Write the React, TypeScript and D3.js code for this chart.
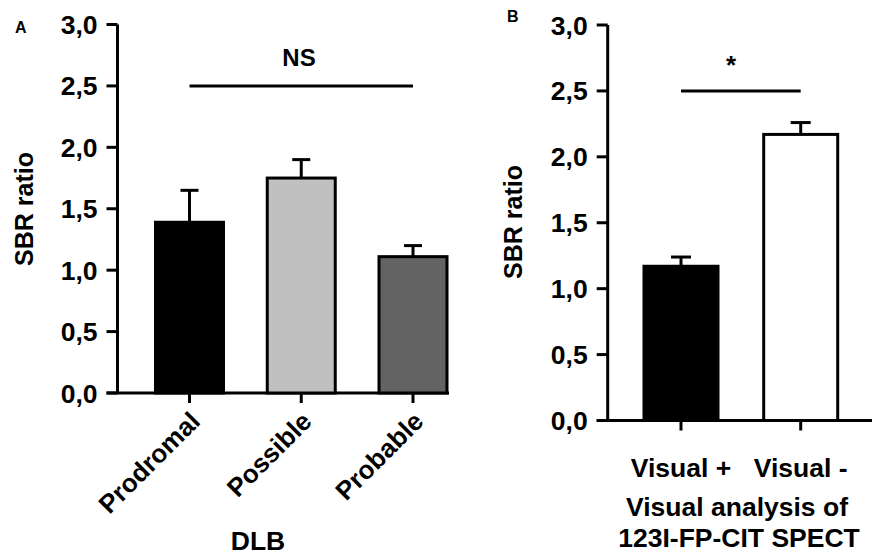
import React, { useEffect, useRef } from "react";
import * as d3 from "d3";

const dlbCategories = ["Prodromal", "Possible", "Probable"];
const dlbMeans = [1.39, 1.75, 1.11];
const dlbErrors = [0.26, 0.15, 0.09];
const dlbColors = ["#000000", "#c0c0c0", "#636363"];

const visualCategories = ["Visual +", "Visual -"];
const visualMeans = [1.17, 2.17];
const visualErrors = [0.07, 0.09];
const visualColors = ["#000000", "#ffffff"];

const yTicks = [0, 0.5, 1, 1.5, 2, 2.5, 3];

const FONT = "'Liberation Sans', Arial, Helvetica, sans-serif";

const fmt = (v: number) => d3.format(".1f")(v).replace(".", ",");

function drawPanel(svg: any, cfg: any) {
    const y = d3.scaleLinear().domain([0, 3]).range([cfg.y0, cfg.y3]);
    const x = d3.scalePoint().domain(cfg.categories).range([cfg.c0, cfg.c1]);
    const g = svg.append("g");

    // y axis
    g.append("line")
        .attr("x1", cfg.axisX).attr("x2", cfg.axisX)
        .attr("y1", y(0)).attr("y2", y(3))
        .attr("stroke", "#000").attr("stroke-width", 3);
    g.selectAll(".ytick").data(yTicks).enter().append("line")
        .attr("x1", cfg.axisX - 11).attr("x2", cfg.axisX)
        .attr("y1", (d: number) => y(d)).attr("y2", (d: number) => y(d))
        .attr("stroke", "#000").attr("stroke-width", 3);
    g.selectAll(".ylab").data(yTicks).enter().append("text")
        .attr("x", cfg.axisX - 20)
        .attr("y", (d: number) => y(d) + 9.5)
        .attr("text-anchor", "end")
        .attr("font-size", 26.5).attr("font-weight", "bold")
        .attr("font-family", FONT)
        .text((d: number) => fmt(d));

    // x axis
    g.append("line")
        .attr("x1", cfg.axisX - 11).attr("x2", cfg.xEnd)
        .attr("y1", y(0)).attr("y2", y(0))
        .attr("stroke", "#000").attr("stroke-width", 3);
    g.selectAll(".xtick").data(cfg.categories).enter().append("line")
        .attr("x1", (d: string) => x(d)).attr("x2", (d: string) => x(d))
        .attr("y1", y(0)).attr("y2", y(0) + 10)
        .attr("stroke", "#000").attr("stroke-width", 3);

    // bars
    const bw = cfg.barWidth;
    g.selectAll(".bar").data(cfg.categories).enter().append("rect")
        .attr("x", (d: string) => x(d)! - bw / 2)
        .attr("width", bw)
        .attr("y", (d: string, i: number) => y(cfg.means[i]))
        .attr("height", (d: string, i: number) => y(0) - y(cfg.means[i]))
        .attr("fill", (d: string, i: number) => cfg.colors[i])
        .attr("stroke", "#000").attr("stroke-width", 3);

    // error bars (upper only)
    g.selectAll(".err").data(cfg.categories).enter().append("line")
        .attr("x1", (d: string) => x(d)).attr("x2", (d: string) => x(d))
        .attr("y1", (d: string, i: number) => y(cfg.means[i]))
        .attr("y2", (d: string, i: number) => y(cfg.means[i] + cfg.errors[i]))
        .attr("stroke", "#000").attr("stroke-width", 3);
    g.selectAll(".cap").data(cfg.categories).enter().append("line")
        .attr("x1", (d: string) => x(d)! - cfg.cap / 2)
        .attr("x2", (d: string) => x(d)! + cfg.cap / 2)
        .attr("y1", (d: string, i: number) => y(cfg.means[i] + cfg.errors[i]))
        .attr("y2", (d: string, i: number) => y(cfg.means[i] + cfg.errors[i]))
        .attr("stroke", "#000").attr("stroke-width", 3);

    // significance line
    const first = cfg.categories[0];
    const last = cfg.categories[cfg.categories.length - 1];
    g.append("line")
        .attr("x1", x(first)).attr("x2", x(last))
        .attr("y1", y(2.5)).attr("y2", y(2.5))
        .attr("stroke", "#000").attr("stroke-width", 3);
    g.append("text")
        .attr("x", cfg.sigX).attr("y", cfg.sigY)
        .attr("text-anchor", "middle")
        .attr("font-size", cfg.sigSize).attr("font-weight", "bold")
        .attr("font-family", FONT)
        .text(cfg.sig);

    // y title
    g.append("text")
        .attr("transform", "translate(" + cfg.titleX + "," + cfg.titleY + ") rotate(-90)")
        .attr("text-anchor", "middle")
        .attr("font-size", 25).attr("font-weight", "bold")
        .attr("font-family", FONT)
        .text("SBR ratio");

    // panel letter
    g.append("text")
        .attr("x", cfg.letterX).attr("y", cfg.letterY)
        .attr("font-size", 16).attr("font-weight", "bold")
        .attr("font-family", FONT)
        .text(cfg.letter);

    return { g, x, y };
}

export default function App() {
    const ref = useRef<SVGSVGElement>(null);

    useEffect(() => {
        const svg = d3.select(ref.current);
        svg.selectAll("*").remove();

        const a = drawPanel(svg, {
            categories: dlbCategories, means: dlbMeans, errors: dlbErrors, colors: dlbColors,
            y0: 393, y3: 24.5, c0: 189.5, c1: 413, axisX: 117.5, xEnd: 449,
            barWidth: 68, cap: 18, sig: "NS", sigX: 299, sigY: 66, sigSize: 24,
            titleX: 33, titleY: 209, letter: "A", letterX: 15, letterY: 33
        });
        a.g.selectAll(".xlab").data(dlbCategories).enter().append("text")
            .attr("transform", (d: string) => "translate(" + (a.x(d)! + 12) + ",423) rotate(-45)")
            .attr("text-anchor", "end")
            .attr("font-size", 26).attr("font-weight", "bold")
            .attr("font-family", FONT)
            .text((d: string) => d);
        a.g.append("text")
            .attr("x", 258).attr("y", 550)
            .attr("text-anchor", "middle")
            .attr("font-size", 26.5).attr("font-weight", "bold")
            .attr("font-family", FONT)
            .text("DLB");

        const b = drawPanel(svg, {
            categories: visualCategories, means: visualMeans, errors: visualErrors, colors: visualColors,
            y0: 420.5, y3: 25, c0: 681, c1: 800.7, axisX: 607.7, xEnd: 872,
            barWidth: 74, cap: 20, sig: "*", sigX: 731, sigY: 74, sigSize: 26,
            titleX: 522, titleY: 222, letter: "B", letterX: 507, letterY: 22
        });
        b.g.selectAll(".xlab").data(visualCategories).enter().append("text")
            .attr("x", (d: string) => b.x(d))
            .attr("y", 477)
            .attr("text-anchor", "middle")
            .attr("font-size", 26.5).attr("font-weight", "bold")
            .attr("font-family", FONT)
            .text((d: string) => d);
        b.g.append("text")
            .attr("x", 737).attr("y", 516)
            .attr("text-anchor", "middle")
            .attr("font-size", 26.5).attr("font-weight", "bold")
            .attr("font-family", FONT)
            .text("Visual analysis of");
        b.g.append("text")
            .attr("x", 739).attr("y", 547)
            .attr("text-anchor", "middle")
            .attr("font-size", 26.5).attr("font-weight", "bold")
            .attr("font-family", FONT)
            .text("123I-FP-CIT SPECT");
    }, []);

    return (
        <svg ref={ref} width={874} height={557}
            style={{ position: "absolute", left: 0, top: 0, background: "#fff" }} />
    );
}
